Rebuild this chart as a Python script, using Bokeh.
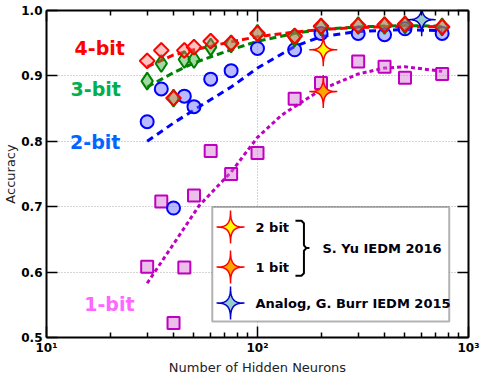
import numpy as np
from bokeh.plotting import figure
from bokeh.models import (LogAxis, LinearAxis, FixedTicker, CustomJSTickFormatter,
                          Label, BoxAnnotation)
from bokeh.embed import file_html
from bokeh.resources import INLINE

# ---------------- data ----------------
neurons = [30, 35, 40, 45, 50, 60, 75, 100, 150, 200, 300, 400, 500, 750]
acc_4bit = [0.923, 0.939, 0.866, 0.939, 0.944, 0.953, 0.950, 0.965, 0.961, 0.976, 0.977, 0.978, 0.979, 0.975]
acc_3bit = [0.892, 0.919, 0.866, 0.925, 0.925, 0.944, 0.949, 0.965, 0.958, 0.975, 0.977, 0.977, 0.978, 0.975]
acc_2bit = [0.830, 0.880, 0.698, 0.869, 0.853, 0.895, 0.908, 0.942, 0.940, 0.965, 0.965, 0.963, 0.972, 0.965]
acc_1bit = [0.608, 0.708, 0.522, 0.607, 0.717, 0.785, 0.750, 0.782, 0.865, 0.889, 0.922, 0.914, 0.897, 0.903]

fit4_x = [30, 40, 50, 75, 100, 150, 200, 300, 500, 750]
fit4_y = [0.914, 0.932, 0.940, 0.952, 0.960, 0.967, 0.971, 0.974, 0.976, 0.975]
fit3_x = [30, 40, 50, 75, 100, 150, 200, 300, 500, 750]
fit3_y = [0.883, 0.905, 0.920, 0.940, 0.953, 0.965, 0.971, 0.975, 0.977, 0.976]
fit2_x = [30, 40, 50, 75, 100, 150, 200, 300, 500, 750]
fit2_y = [0.800, 0.828, 0.848, 0.883, 0.912, 0.945, 0.960, 0.968, 0.971, 0.969]
fit1_x = [30, 40, 53, 75, 100, 130, 200, 300, 400, 500, 750]
fit1_y = [0.583, 0.643, 0.702, 0.753, 0.806, 0.840, 0.879, 0.903, 0.912, 0.914, 0.907]

star_names = ["2 bit", "1 bit", "Analog, G. Burr IEDM 2015"]
star_x = [205, 205, 600]
star_y = [0.940, 0.876, 0.986]
star_fill = ["#ffff00", "#ffa500", "#99cccc"]
star_edge = ["#ff0000", "#ff0000", "#0000cc"]

series_labels = ["4-bit", "3-bit", "2-bit", "1-bit"]
series_label_colors = ["#ff0000", "#00b050", "#0066ff", "#ff66ff"]

y_ticks = [0.5, 0.6, 0.7, 0.8, 0.9, 1.0]
y_tick_labels = ["0.5", "0.6", "0.7", "0.8", "0.9", "1.0"]
x_ticks = [10, 100, 1000]
x_tick_labels = ["10\u00b9", "10\u00b2", "10\u00b3"]
x_minor_ticks = [m * d for d in (10, 100) for m in range(2, 10)]

# ---------------- figure ----------------
FW, FH = 422, 327
p = figure(x_axis_type="log", x_range=(10, 1000), y_range=(0.5, 1.0),
           frame_width=FW, frame_height=FH, output_backend="svg",
           toolbar_location=None, min_border_left=0, min_border_right=14,
           min_border_top=10, min_border_bottom=0)
p.outline_line_color = None
p.background_fill_color = "white"
p.border_fill_color = "white"

# reference-pixel helpers for decorations (legend box etc.)
def ref_x(px):
    return 10 ** (1 + 2 * (px - 46.7) / 422.6)

def ref_y(py):
    return 1.0 - 0.5 * (py - 10.7) / 327.0

def style_axis(ax):
    ax.axis_line_width = 2
    ax.axis_line_color = "black"
    ax.major_tick_in = 11
    ax.major_tick_out = 0
    ax.minor_tick_in = 5
    ax.minor_tick_out = 0
    ax.major_tick_line_width = 1.5
    ax.minor_tick_line_width = 1.5
    ax.major_label_text_font = "DejaVu Sans"
    ax.major_label_text_font_style = "bold"
    ax.major_label_text_font_size = "12px"
    ax.major_label_text_color = "black"
    ax.axis_label_text_font = "DejaVu Sans"
    ax.axis_label_text_font_style = "normal"
    ax.axis_label_text_font_size = "13px"
    ax.axis_label_text_color = "#222222"

xtick = FixedTicker(ticks=x_ticks, minor_ticks=x_minor_ticks)
ytick = FixedTicker(ticks=y_ticks)

xa = p.xaxis[0]
ya = p.yaxis[0]
style_axis(xa)
style_axis(ya)
xa.ticker = xtick
xa.axis_label = "Number of Hidden Neurons"
ya.axis_label = "Accuracy"
xa.major_label_overrides = dict(zip(x_ticks, x_tick_labels))
xa.major_label_standoff = 3
xa.axis_label_standoff = 2
ya.ticker = ytick
ya.major_label_overrides = dict(zip(y_ticks, y_tick_labels))
ya.minor_tick_line_color = None
ya.major_label_standoff = 4
ya.axis_label_standoff = 0

blank = CustomJSTickFormatter(code="return ''")
top = LogAxis(ticker=FixedTicker(ticks=x_ticks, minor_ticks=x_minor_ticks), formatter=blank)
style_axis(top)
top.major_label_standoff = 0
p.add_layout(top, "above")
right = LinearAxis(ticker=FixedTicker(ticks=y_ticks), formatter=blank)
style_axis(right)
right.minor_tick_line_color = None
right.major_label_standoff = 0
p.add_layout(right, "right")

for g in (p.xgrid[0], p.ygrid[0]):
    g.grid_line_color = "#aaaaaa"
    g.grid_line_dash = "1 2"
    g.grid_line_width = 1
p.xgrid[0].ticker = FixedTicker(ticks=x_ticks)
p.ygrid[0].ticker = FixedTicker(ticks=y_ticks)

# ---------------- fit lines ----------------
p.line(fit1_x, fit1_y, line_color="#c000c0", line_width=3, line_dash="4 3")
p.line(fit2_x, fit2_y, line_color="#0000ff", line_width=3, line_dash="7 5")
p.line(fit3_x, fit3_y, line_color="#008000", line_width=3, line_dash="7 4")
p.line(fit4_x, fit4_y, line_color="#ff0000", line_width=3, line_dash="7 4")

# ---------------- markers ----------------
p.scatter(neurons, acc_1bit, marker="square", size=12, fill_color="#d070d0",
          fill_alpha=0.45, line_color="#c000c0", line_width=2)
p.scatter(neurons, acc_2bit, marker="circle", size=13, fill_color="#6666ff",
          fill_alpha=0.45, line_color="#0000ff", line_width=2)
p.scatter(neurons, acc_3bit, marker="diamond", size=17, fill_color="#33aa33",
          fill_alpha=0.45, line_color="#008000", line_width=2)
p.scatter(neurons, acc_4bit, marker="square", angle=np.pi / 4, size=10.5,
          fill_color="#ff6666", fill_alpha=0.4, line_color="#ff0000", line_width=2)

# ---------------- star markers ----------------
t = np.linspace(0, 2 * np.pi, 145)
RX, RY, PW = 14.0, 16.5, 4.5
sdx = RX * np.sign(np.cos(t)) * np.abs(np.cos(t)) ** PW
sdy = RY * np.sign(np.sin(t)) * np.abs(np.sin(t)) ** PW

def star_poly(x0, y0):
    xs = list(x0 * 10 ** (sdx * 2.0 / FW))
    ys = list(y0 + sdy * 0.5 / FH)
    return xs, ys

polys = [star_poly(x, y) for x, y in zip(star_x, star_y)]
p.patches([q[0] for q in polys], [q[1] for q in polys], fill_color=star_fill,
          line_color=star_edge, line_width=1.5)

# ---------------- series labels ----------------
label_pos = [(100, 48.3), (96, 89.3), (95.5, 141.7), (109.7, 304.3)]
for txt, col, (lx, ly) in zip(series_labels, series_label_colors, label_pos):
    p.add_layout(Label(x=ref_x(lx), y=ref_y(ly), text=txt, text_color=col,
                       text_font="DejaVu Sans", text_font_style="bold",
                       text_font_size="19px", text_align="center",
                       text_baseline="middle"))

# ---------------- legend box ----------------
box = BoxAnnotation(left=ref_x(212.7), right=ref_x(450), top=ref_y(207.3),
                    bottom=ref_y(321.7), fill_color="white", fill_alpha=1.0,
                    line_color="black", line_width=2, level="underlay")
p.add_layout(box)

leg_rows = [227.3, 267.3, 303.3]
lpolys = [star_poly(ref_x(231), ref_y(r)) for r in leg_rows]
p.patches([q[0] for q in lpolys], [q[1] for q in lpolys], fill_color=star_fill,
          line_color=star_edge, line_width=1.5)
for name, r in zip(star_names, leg_rows):
    p.add_layout(Label(x=ref_x(256), y=ref_y(r + 0.3), text=name, text_color="#000010",
                       text_font="DejaVu Sans", text_font_style="bold",
                       text_font_size="13px", text_align="left", text_baseline="middle"))
p.add_layout(Label(x=ref_x(323), y=ref_y(248.3), text="S. Yu IEDM 2016", text_color="#000010",
                   text_font="DejaVu Sans", text_font_style="bold",
                   text_font_size="13px", text_align="left", text_baseline="middle"))

br1 = [(296, 221), (302, 221), (304.5, 223.5), (304.5, 245.5), (307, 248.3), (310, 248.3)]
br2 = [(307, 248.3), (304.5, 251), (304.5, 273.5), (302, 276), (296, 276)]
p.multi_line([[ref_x(a) for a, b in br1], [ref_x(a) for a, b in br2]],
             [[ref_y(b) for a, b in br1], [ref_y(b) for a, b in br2]],
             line_color="black", line_width=2)

open("out.html", "w").write(file_html(p, INLINE))
